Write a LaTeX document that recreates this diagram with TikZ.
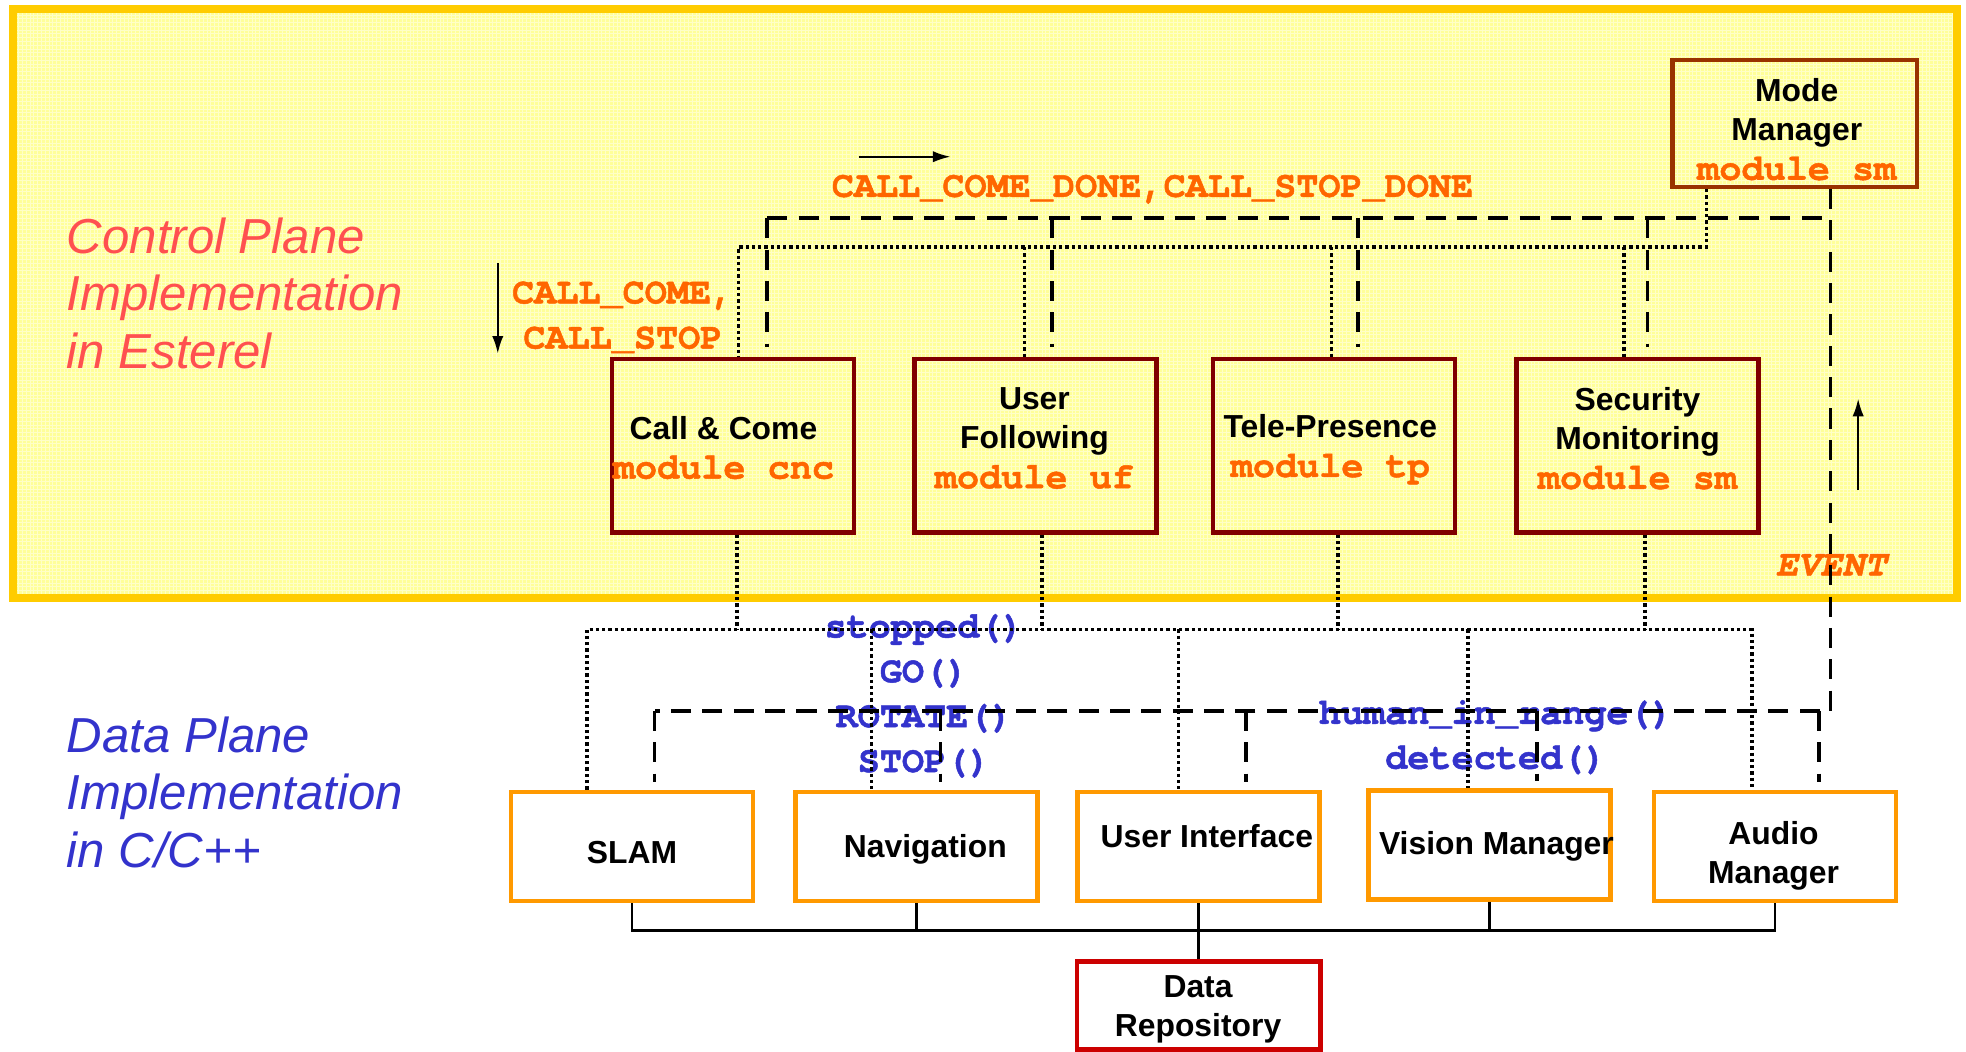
\documentclass[tikz,border=0pt]{standalone}
\usepackage{fontspec}
\setmainfont{Liberation Sans}
\newfontfamily\cursorfont{TeX Gyre Cursor}[BoldFeatures={FakeBold=1.3}, BoldItalicFeatures={FakeBold=1.3}]
\usetikzlibrary{arrows.meta}
\definecolor{panelfill}{HTML}{FFFF99}
\definecolor{panelline}{HTML}{FFCC00}
\definecolor{modred}{HTML}{800000}
\definecolor{mmbrown}{HTML}{993300}
\definecolor{dataorange}{HTML}{FF9900}
\definecolor{repored}{HTML}{CC0000}
\definecolor{sigorange}{HTML}{FF6600}
\definecolor{fnblue}{HTML}{3333CC}
\definecolor{ctrlred}{HTML}{FF5050}
\newcommand{\modtxt}[1]{{\cursorfont\bfseries\fontsize{14.7}{15.7}\selectfont\color{sigorange}#1}}
\begin{document}
\begin{tikzpicture}[x=0.5pt, y=-0.5pt,
  modbox/.style={draw=modred, line width=1.8pt, minimum width=96.5pt, minimum height=69pt, inner sep=0pt},
  mmbox/.style={draw=mmbrown, line width=1.8pt, minimum width=97.5pt, minimum height=50.5pt, inner sep=0pt},
  databox/.style={draw=dataorange, fill=white, line width=1.8pt, minimum width=96.5pt, minimum height=43.5pt, inner sep=0pt},
  repobox/.style={draw=repored, fill=white, line width=1.8pt, minimum width=97pt, minimum height=35pt, inner sep=0pt},
  boxtxt/.style={font=\fontsize{12.7}{15.7}\selectfont\bfseries, align=center, inner sep=0pt},
  sigtxt/.style={font=\cursorfont\bfseries\fontsize{14.7}{18}\selectfont, text=sigorange, inner sep=0pt},
  fntxt/.style={font=\cursorfont\bfseries\fontsize{14.7}{17.9}\selectfont, text=fnblue, align=center, inner sep=0pt},
  planelabel/.style={font=\fontsize{19.6}{23}\selectfont\itshape, align=left, inner sep=0pt, anchor=west},
  dashbus/.style={line width=1.5pt, dash pattern=on 8pt off 4.5pt},
  dotbus/.style={line width=1.5pt, dash pattern=on 1.3pt off 1.2pt},
  solidbus/.style={line width=1pt},
  sigarrow/.style={line width=0.8pt, -{Latex[length=7pt,width=4.5pt]}}
]
\useasboundingbox (0,0) rectangle (1568,839);
\fill[white] (0,0) rectangle (1568,839);

% control plane panel
\fill[panelfill] (10,7) rectangle (1561,477);
\begin{scope}[x=0.5pt, y=0.5pt]
  \draw[white, line width=0.3pt, opacity=0.45, step=1.5pt] (12,-475) grid (1559,-9);
\end{scope}
\draw[panelline, line width=3.2pt] (10,7) rectangle (1561,477);

% plane labels
\node[planelabel, text=ctrlred] (cpl) at (53,234) {Control Plane\\Implementation\\in Esterel};
\node[planelabel, text=fnblue] (dpl) at (53,632) {Data Plane\\Implementation\\in C/C++};

% boxes
\node[mmbox] (mm) at (1431.5,98.5) {};
\node[modbox] (cnc) at (584.5,355.5) {};
\node[modbox] (uf) at (826,355.5) {};
\node[modbox] (tp) at (1064,355.5) {};
\node[modbox] (sm) at (1306,355.5) {};
\node[databox] (slam) at (504,675) {};
\node[databox] (nav) at (731,675) {};
\node[databox] (ui) at (956,675) {};
\node[databox] (vis) at (1188,674) {};
\node[databox] (aud) at (1415.5,675) {};
\node[repobox] (repo) at (956,802) {};

% box texts
\node[boxtxt] (mm-t) at (1433,103) {Mode\\Manager\\\modtxt{module sm}};
\node[boxtxt] (cnc-t) at (577,357) {Call \& Come\\\modtxt{module cnc}};
\node[boxtxt] (uf-t) at (825,349.5) {User\\Following\\\modtxt{module uf}};
\node[boxtxt] (tp-t) at (1061,358.5) {Tele-Presence\\\modtxt{module tp}};
\node[boxtxt] (sm-t) at (1306,349.5) {Security\\Monitoring\\\modtxt{module sm}};
\node[boxtxt] (slam-t) at (504,680) {SLAM};
\node[boxtxt] (nav-t) at (738,677) {Navigation};
\node[boxtxt] (ui-t) at (962.5,667) {User Interface};
\node[boxtxt] (vis-t) at (1193.5,675) {Vision Manager};
\node[boxtxt] (aud-t) at (1414.5,682.5) {Audio\\Manager};
\node[boxtxt] (repo-t) at (955.5,805) {Data\\Repository};

% signal texts
\node[sigtxt, anchor=base west] (done-t) at (663,157) {CALL\_COME\_DONE,CALL\_STOP\_DONE};
\node[sigtxt, anchor=base west] (cc-t) at (408,242) {CALL\_COME,};
\node[sigtxt, anchor=base west] (cs-t) at (417,278) {CALL\_STOP};
\node[sigtxt, anchor=base west, font=\cursorfont\bfseries\itshape\fontsize{14.7}{18}\selectfont] (ev-t) at (1416,459) {EVENT};
\node[fntxt] (nav-fn) at (737,555) {stopped()\\GO()\\ROTATE()\\STOP()};
\node[fntxt] (vis-fn) at (1193,588) {human\_in\_range()\\detected()};

% coordinates of buses
\coordinate (cbL) at (612,174);
\coordinate (cb2) at (839,174);
\coordinate (cb3) at (1083,174);
\coordinate (cb4) at (1314,174);
\coordinate (cbR) at (1460,174);
\coordinate (dbL) at (522,567);
\coordinate (db2) at (750,567);
\coordinate (db3) at (994,567);
\coordinate (db4) at (1226,567);
\coordinate (db5) at (1451,567);
\coordinate (dbR) at (1460,567);
\coordinate (ubL) at (589,197);
\coordinate (ub2) at (817,197);
\coordinate (ub3) at (1062,197);
\coordinate (ub4) at (1295,197);
\coordinate (ubR) at (1361,197);
\coordinate (lbL) at (468,502);
\coordinate (lb2) at (695,502);
\coordinate (lb3) at (940,502);
\coordinate (lb4) at (1171,502);
\coordinate (lbR) at (1397,502);
\coordinate (lm1) at (588,502);
\coordinate (lm2) at (831,502);
\coordinate (lm3) at (1067,502);
\coordinate (lm4) at (1312,502);
\coordinate (busY) at (504,742);

% dashed control lines
\draw[dashbus] (cbL) -- (cbR);
\draw[dashbus] (mm.south -| cbR) -- (dbR) -- (dbL);
\draw[dashbus, shorten >=4pt] (cbL) -- (cbL |- cnc.north);
\draw[dashbus, shorten >=4pt] (cb2) -- (cb2 |- uf.north);
\draw[dashbus, shorten >=4pt] (cb3) -- (cb3 |- tp.north);
\draw[dashbus, shorten >=4pt] (cb4) -- (cb4 |- sm.north);
\draw[dashbus, shorten >=3pt] (dbL) -- (dbL |- slam.north);
\draw[dashbus, shorten >=3pt] (db2) -- (db2 |- nav.north);
\draw[dashbus, shorten >=3pt] (db3) -- (db3 |- ui.north);
\draw[dashbus, shorten >=3pt] (db4) -- (db4 |- vis.north);
\draw[dashbus, shorten >=3pt] (db5) -- (db5 |- aud.north);

% dotted lines
\draw[dotbus] (mm.south -| ubR) -- (ubR) -- (ubL) -- (ubL |- cnc.north);
\draw[dotbus] (ub2) -- (ub2 |- uf.north);
\draw[dotbus] (ub3) -- (ub3 |- tp.north);
\draw[dotbus] (ub4) -- (ub4 |- sm.north);
\draw[dotbus] (cnc.south -| lm1) -- (lm1);
\draw[dotbus] (uf.south -| lm2) -- (lm2);
\draw[dotbus] (tp.south -| lm3) -- (lm3);
\draw[dotbus] (sm.south -| lm4) -- (lm4);
\draw[dotbus] (lbL |- slam.north) -- (lbL) -- (lbR) -- (lbR |- aud.north);
\draw[dotbus] (lb2) -- (lb2 |- nav.north);
\draw[dotbus] (lb3) -- (lb3 |- ui.north);
\draw[dotbus] (lb4) -- (lb4 |- vis.north);

% solid data bus
\draw[solidbus] (slam.south) -- (slam.south |- busY) -- (aud.south |- busY) -- (aud.south);
\draw[solidbus] (nav.south) -- (nav.south |- busY);
\draw[solidbus] (ui.south) -- (ui.south |- busY);
\draw[solidbus] (vis.south) -- (vis.south |- busY);
\draw[solidbus] (repo.north) -- (repo.north |- busY);

% signal direction arrows
\coordinate (ar1a) at (685,125); \coordinate (ar1b) at (758,125);
\coordinate (ar2a) at (397,210); \coordinate (ar2b) at (397,282);
\coordinate (ar3a) at (1482,391); \coordinate (ar3b) at (1482,318);
\draw[sigarrow] (ar1a) -- (ar1b);
\draw[sigarrow] (ar2a) -- (ar2b);
\draw[sigarrow] (ar3a) -- (ar3b);
\end{tikzpicture}
\end{document}
